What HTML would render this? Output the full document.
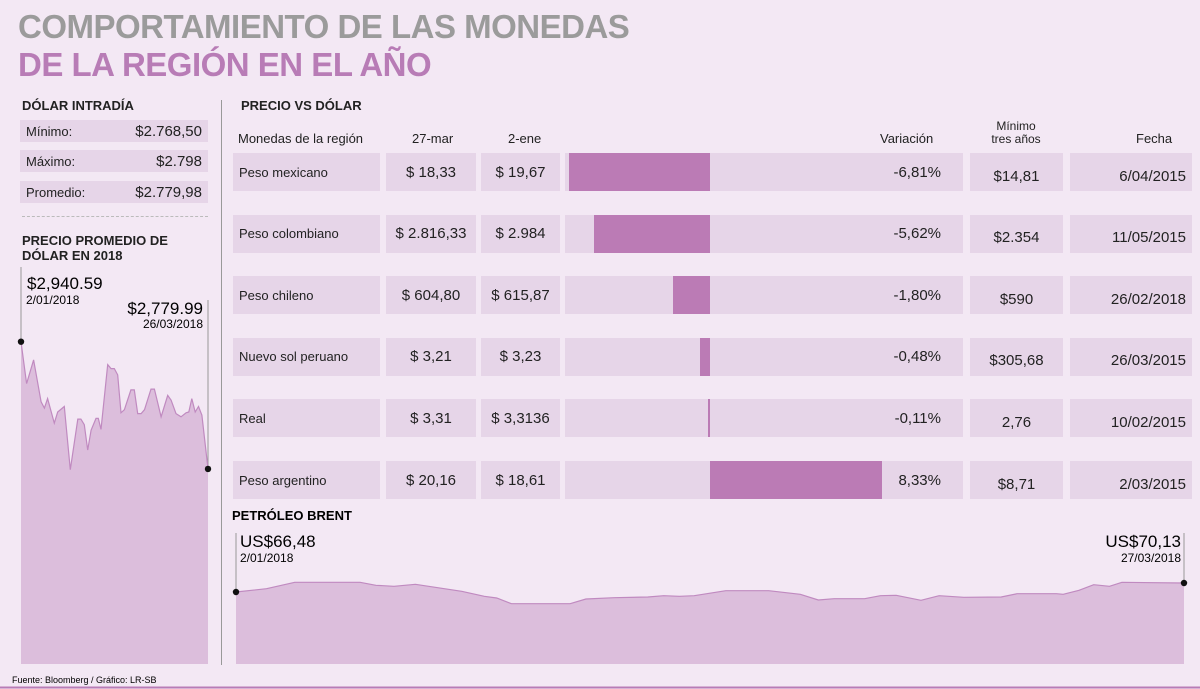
<!DOCTYPE html>
<html><head><meta charset="utf-8">
<style>
body{margin:0;width:1200px;height:689px;background:#f3e8f4;font-family:"Liberation Sans",sans-serif;position:relative;overflow:hidden;color:#222}
.abs{position:absolute}
.cell{position:absolute;background:#e6d5e8;font-size:13px;display:flex;align-items:center;box-sizing:border-box}
.h{font-weight:bold;font-size:13px;position:absolute}
</style></head><body>
<div class="abs" style="left:18px;top:8px;font-size:33px;font-weight:bold;color:#9b9b9b;letter-spacing:-0.5px">COMPORTAMIENTO DE LAS MONEDAS</div>
<div class="abs" style="left:18px;top:46px;font-size:33px;font-weight:bold;color:#b87cb6;letter-spacing:-0.5px">DE LA REGIÓN EN EL AÑO</div>

<div class="h" style="left:22px;top:98px">DÓLAR INTRADÍA</div>
<div class="cell" style="left:20px;top:120px;width:188px;height:22px;padding:0 6px;justify-content:space-between"><span>Mínimo:</span><span style="font-size:15px">$2.768,50</span></div>
<div class="cell" style="left:20px;top:150px;width:188px;height:22px;padding:0 6px;justify-content:space-between"><span>Máximo:</span><span style="font-size:15px">$2.798</span></div>
<div class="cell" style="left:20px;top:181px;width:188px;height:22px;padding:0 6px;justify-content:space-between"><span>Promedio:</span><span style="font-size:15px">$2.779,98</span></div>
<div class="abs" style="left:22px;top:216px;width:186px;border-top:1px dashed #bbb"></div>
<div class="h" style="left:22px;top:233px;line-height:15px">PRECIO PROMEDIO DE<br>DÓLAR EN 2018</div>
<div class="abs" style="left:221px;top:100px;width:1px;height:565px;background:#999"></div>

<div class="h" style="left:241px;top:98px">PRECIO VS DÓLAR</div>
<div class="abs" style="left:238px;top:131px;font-size:13px">Monedas de la región</div>
<div class="abs" style="left:412px;top:131px;font-size:13px">27-mar</div>
<div class="abs" style="left:508px;top:131px;font-size:13px">2-ene</div>
<div class="abs" style="left:880px;top:131px;font-size:13px">Variación</div>
<div class="abs" style="left:960px;top:120px;width:112px;text-align:center;font-size:12px;line-height:13px">Mínimo<br>tres años</div>
<div class="abs" style="left:1136px;top:131px;font-size:13px">Fecha</div>

<div id="table"></div>

<svg class="abs" style="left:0;top:0" width="1200" height="689" id="charts">
<line x1="21" y1="267" x2="21" y2="342" stroke="#999"/>
<line x1="208" y1="300" x2="208" y2="469" stroke="#999"/>
<text x="27" y="289" font-size="17">$2,940.59</text>
<text x="26" y="304" font-size="12">2/01/2018</text>
<text x="203" y="314" font-size="17" text-anchor="end">$2,779.99</text>
<text x="203" y="328" font-size="12" text-anchor="end">26/03/2018</text>
<text x="232" y="520" font-size="13" font-weight="bold">PETRÓLEO BRENT</text>
<line x1="236" y1="533" x2="236" y2="592" stroke="#999"/>
<line x1="1184" y1="533" x2="1184" y2="583" stroke="#999"/>
<text x="240" y="547" font-size="17">US$66,48</text>
<text x="240" y="562" font-size="12">2/01/2018</text>
<text x="1181" y="547" font-size="17" text-anchor="end">US$70,13</text>
<text x="1181" y="562" font-size="12" text-anchor="end">27/03/2018</text>
<text x="12" y="683" font-size="9">Fuente: Bloomberg  / Gráfico: LR-SB</text>
<line x1="0" y1="687.5" x2="1200" y2="687.5" stroke="#b87cb6" stroke-width="2"/>
</svg>

<script>
const names=["Peso mexicano","Peso colombiano","Peso chileno","Nuevo sol peruano","Real","Peso argentino"];
const priceMar=["$ 18,33","$ 2.816,33","$ 604,80","$ 3,21","$ 3,31","$ 20,16"];
const priceJan=["$ 19,67","$ 2.984","$ 615,87","$ 3,23","$ 3,3136","$ 18,61"];
const variation=[-6.81,-5.62,-1.80,-0.48,-0.11,8.33];
const min3y=["$14,81","$2.354","$590","$305,68","2,76","$8,71"];
const minDate=["6/04/2015","11/05/2015","26/02/2018","26/03/2015","10/02/2015","2/03/2015"];

const usdDays=[0,2.5,5.6,8.9,10.4,11.8,14.8,16.3,19.2,21.9,25.2,26.6,28.1,29.6,31.1,33.3,34.3,35.5,38.5,40,41.4,42.9,44.4,45.9,48.8,50.3,51.8,53.3,54.8,57.7,59.2,62.2,65.1,66.6,68.8,71,73.3,74.5,75.8,77.3,78.8,80.3,83];
const usdValues=[2941,2888,2918,2865,2857,2869,2838,2852,2859,2779,2843,2843,2836,2804,2829,2844,2844,2830,2912,2907,2907,2899,2851,2855,2880,2880,2850,2850,2855,2881,2881,2846,2873,2867,2850,2846,2851,2852,2869,2852,2859,2848,2780];
const brentDays=[0,2.7,5.2,11,12.4,14,15.9,20,22,23.1,24.4,29.6,31,33.5,36.5,37.9,39.3,40.6,43.4,47.2,50,51.6,53,55.7,57.1,58.5,60.7,62.3,64.5,67.8,69.2,72.7,73.3,74.7,76,77.4,78.5,84];
const brentValues=[66.48,67.83,70.4,70.4,69.18,68.78,69.6,66.75,64.73,64.05,61.76,61.76,63.65,64.19,64.46,65.0,64.73,65.0,67.02,67.02,65.54,63.24,63.78,63.78,65.0,65.13,63.1,65.0,64.32,64.46,65.81,65.81,65.54,67.16,69.45,68.78,70.4,70.13];

const t=document.getElementById('table');
const rowTop=i=>153+i*61.6;
const varX=v=>710+v*20.65;
function cell(x,w,y,txt,just,name,extra){
  const d=document.createElement('div');d.className='cell';
  d.style.cssText=`left:${x}px;top:${y}px;width:${w}px;height:38px;padding:0 6px;justify-content:${just};${extra||''}`;
  d.textContent=txt;
  
  
  t.appendChild(d);return d;
}
names.forEach((n,i)=>{
  const y=rowTop(i);
  cell(233,147,y,n,'flex-start','currency-name');
  cell(386,90,y,priceMar[i],'center','price-27mar','font-size:15px');
  cell(481,79,y,priceJan[i],'center','price-2ene','font-size:15px');
  const bc=cell(565,398,y,(variation[i]>0?'':'')+variation[i].toFixed(2).replace('.',',')+'%','flex-end','variation-cell','font-size:15px;padding-right:22px');
  const b=document.createElement('div');
  const x0=Math.min(varX(0),varX(variation[i])),x1=Math.max(varX(0),varX(variation[i]));
  b.style.cssText=`position:absolute;left:${x0-565}px;top:0;width:${Math.max(x1-x0,2)}px;height:38px;background:#bb7bb5`;
  
  
  bc.appendChild(b);
  cell(970,93,y,min3y[i],'center','min-three-years','font-size:15px;padding-top:8px');
  cell(1070,122,y,minDate[i],'flex-end','min-date','font-size:15px;padding-top:8px');
});

const svg=document.getElementById('charts');const NS='http://www.w3.org/2000/svg';
function area(days,vals,x0,x1,dMax,yTop,vTop,pxPer,base,name){
  const X=d=>x0+d/dMax*(x1-x0);
  const Y=v=>yTop+(vTop-v)/pxPer;
  let pts=days.map((d,i)=>X(d).toFixed(1)+','+Y(vals[i]).toFixed(1));
  const p=document.createElementNS(NS,'polygon');
  p.setAttribute('points',X(0)+','+base+' '+pts.join(' ')+' '+X(dMax)+','+base);
  p.setAttribute('fill','#dcbedc');p.setAttribute('stroke','none');
  
  
  svg.appendChild(p);
  const l=document.createElementNS(NS,'polyline');
  l.setAttribute('points',pts.join(' '));l.setAttribute('fill','none');l.setAttribute('stroke','#c08ac0');l.setAttribute('stroke-width','1.2');
  
  
  svg.appendChild(l);
  [[0,vals[0]],[days[days.length-1],vals[vals.length-1]]].forEach(([d,v])=>{
    const c=document.createElementNS(NS,'circle');
    c.setAttribute('cx',X(d));c.setAttribute('cy',Y(v));c.setAttribute('r',3.2);c.setAttribute('fill','#111');
    
    
    svg.appendChild(c);
  });
}
area(usdDays,usdValues,21,208,83,342,2940.59,1.265,664,'usd-price');
area(brentDays,brentValues,236,1184,84,592,66.48,0.405,664,'brent-price');
</script>
</body></html>
